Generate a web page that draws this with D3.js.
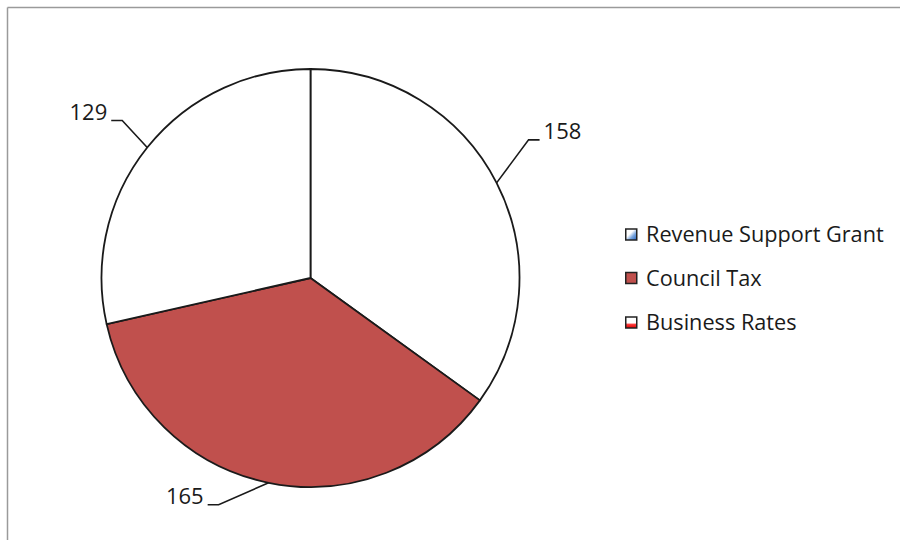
<!DOCTYPE html>
<html>
<head>
<meta charset="utf-8">
<script src="https://cdn.jsdelivr.net/npm/d3@7"></script>
<style>
  html, body { margin: 0; padding: 0; background: #fff; }
  svg { display: block; }
  text { font-family: "Open Sans", "Liberation Sans", sans-serif; fill: #1a1a1a; }
</style>
</head>
<body>
<svg id="chart" width="900" height="543"></svg>
<script>
// Data
const categories = ["Revenue Support Grant", "Council Tax", "Business Rates"];
const values = [158, 165, 129];
const sliceFills = ["#ffffff", "#c0504d", "#ffffff"];

const svg = d3.select("#chart");
const W = 900, H = 543;

// frame (top and left edges visible)
svg.append("line").attr("x1", 7.5).attr("y1", 7.5).attr("x2", W).attr("y2", 7.5)
  .attr("stroke", "#9a9a9a").attr("stroke-width", 1.5);
svg.append("line").attr("x1", 7.5).attr("y1", 7.5).attr("x2", 7.5).attr("y2", 540)
  .attr("stroke", "#9a9a9a").attr("stroke-width", 1.5);

const cx = 310.5, cy = 278, r = 209;

const pie = d3.pie().sort(null).value(d => d.v);
const data = categories.map((c, i) => ({ c, v: values[i], fill: sliceFills[i] }));
const arcs = pie(data);
const arc = d3.arc().innerRadius(0).outerRadius(r);

const g = svg.append("g").attr("transform", `translate(${cx},${cy})`);
g.selectAll("path.slice").data(arcs).enter().append("path")
  .attr("class", "slice")
  .attr("d", arc)
  .attr("fill", d => d.data.fill)
  .attr("stroke", "#1a1a1a")
  .attr("stroke-width", 1.8)
  .attr("stroke-linejoin", "round");

// Leader lines and labels
const leaders = [
  { dx: 32, dy: -43, hx: 11, anchor: "start" },   // 158
  { dx: -50, dy: 22, hx: -11, anchor: "end" },   // 165
  { dx: -25, dy: -27, hx: -11, anchor: "end" }   // 129
];
const fontSize = 22;
arcs.forEach((a, i) => {
  const mid = (a.startAngle + a.endAngle) / 2;
  const L = leaders[i];
  const p = [Math.sin(mid) * r, -Math.cos(mid) * r];
  const e = [p[0] + L.dx, p[1] + L.dy];
  const h = [e[0] + L.hx, e[1]];
  g.append("polyline")
    .attr("points", [p, e, h].map(q => q.join(",")).join(" "))
    .attr("fill", "none").attr("stroke", "#1a1a1a").attr("stroke-width", 1.6);
  g.append("text")
    .attr("x", h[0] + (L.hx > 0 ? 4 : -4))
    .attr("y", h[1])
    .attr("dy", -0.5)
    .attr("text-anchor", L.anchor)
    .style("font-size", fontSize + "px")
    .text(a.data.v);
});

// Legend
const legend = svg.append("g").attr("transform", "translate(625,0)");
const rowY = [234.5, 278, 322.5];
const defs = svg.append("defs");
const gb = defs.append("linearGradient").attr("id", "gBlue")
  .attr("x1", "0").attr("y1", "0").attr("x2", "1").attr("y2", "1");
gb.append("stop").attr("offset", "0").attr("stop-color", "#ffffff");
gb.append("stop").attr("offset", "0.4").attr("stop-color", "#ffffff");
gb.append("stop").attr("offset", "0.65").attr("stop-color", "#7aa6de");
gb.append("stop").attr("offset", "1").attr("stop-color", "#1f5fbf");
const gr = defs.append("linearGradient").attr("id", "gRed")
  .attr("x1", "0").attr("y1", "0").attr("x2", "0").attr("y2", "1");
gr.append("stop").attr("offset", "0").attr("stop-color", "#ffffff");
gr.append("stop").attr("offset", "0.55").attr("stop-color", "#ffffff");
gr.append("stop").attr("offset", "0.65").attr("stop-color", "#ff4040");
gr.append("stop").attr("offset", "1").attr("stop-color", "#e00000");
const markerFills = ["url(#gBlue)", "#c0504d", "url(#gRed)"];

categories.forEach((c, i) => {
  const row = legend.append("g").attr("transform", `translate(0,${rowY[i]})`);
  row.append("rect").attr("x", 0.75).attr("y", -5.5).attr("width", 11).attr("height", 11)
    .attr("fill", markerFills[i]).attr("stroke", "#222").attr("stroke-width", 1.5);
  row.append("text").attr("x", 21).attr("y", 0).attr("dy", "0.35em")
    .style("font-size", "21.7px").text(c);
});
</script>
</body>
</html>
